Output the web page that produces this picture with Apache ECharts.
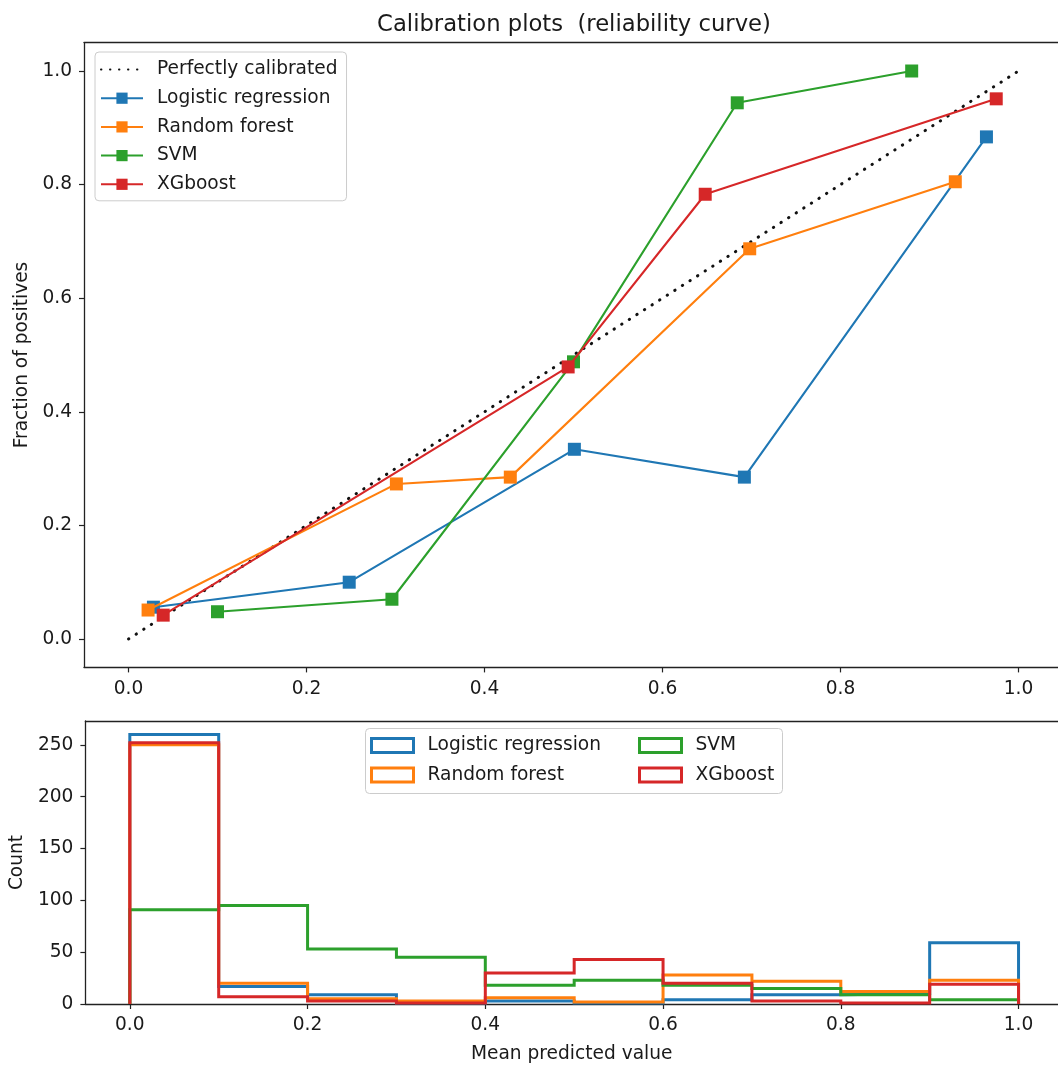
<!DOCTYPE html>
<html>
<head>
<meta charset="utf-8">
<title>Calibration plots</title>
<script src="https://cdn.jsdelivr.net/npm/echarts@6/dist/echarts.min.js"></script>
<style>
  html, body { margin: 0; padding: 0; background: #fff; overflow: hidden; }
  #chart { width: 1058px; height: 1065px; }
</style>
</head>
<body>
<div id="chart"></div>
<script>
// Reliability curves: mean predicted value (x) vs fraction of positives (y)
const modelNames = ['Logistic regression', 'Random forest', 'SVM', 'XGboost'];
const lrMeanPred = [0.028, 0.248, 0.501, 0.692, 0.964];
const lrFracPos  = [0.056, 0.100, 0.334, 0.285, 0.884];
const rfMeanPred = [0.022, 0.301, 0.429, 0.698, 0.929];
const rfFracPos  = [0.051, 0.273, 0.285, 0.687, 0.805];
const svmMeanPred = [0.100, 0.296, 0.500, 0.684, 0.880];
const svmFracPos  = [0.048, 0.070, 0.488, 0.944, 1.000];
const xgbMeanPred = [0.039, 0.494, 0.648, 0.975];
const xgbFracPos  = [0.042, 0.479, 0.783, 0.951];

// Histogram of predicted probabilities (10 bins on [0, 1])
const binEdges = [0.0, 0.1, 0.2, 0.3, 0.4, 0.5, 0.6, 0.7, 0.8, 0.9, 1.0];
const lrCounts  = [260, 17, 9, 1, 3, 1, 4, 9, 10, 59];
const rfCounts  = [250, 20, 5, 3, 6, 2, 28, 22, 12, 23];
const svmCounts = [91, 95, 53, 45, 18, 23, 18, 15, 9, 4];
const xgbCounts = [252, 7, 3, 1, 30, 43, 20, 3, 1, 19];

// Tick labels
const probTicks = [0.0, 0.2, 0.4, 0.6, 0.8, 1.0];
const countTicks = [0, 50, 100, 150, 200, 250];

const colors = ['#1f77b4', '#ff7f0e', '#2ca02c', '#d62728'];
const FONT = 'DejaVu Sans';
const TXT = '#1a1a1a';
const FS = 18.6;

// x extent: 5% margin on the left; the right part of the axes runs past the page edge
const X_MIN = -0.05;
const X_MAX = 1.0444;

function pairs(xs, ys) { return xs.map((x, i) => [x, ys[i]]); }

// Outline of a step histogram (like histtype='step')
function stepOutline(edges, counts) {
  const pts = [[edges[0], 0]];
  counts.forEach((c, i) => { pts.push([edges[i], c]); pts.push([edges[i + 1], c]); });
  pts.push([edges[edges.length - 1], 0]);
  return pts;
}

const curves = [
  pairs(lrMeanPred, lrFracPos),
  pairs(rfMeanPred, rfFracPos),
  pairs(svmMeanPred, svmFracPos),
  pairs(xgbMeanPred, xgbFracPos)
];
const hists = [lrCounts, rfCounts, svmCounts, xgbCounts].map(c => stepOutline(binEdges, c));

const spine = { show: true, onZero: false, lineStyle: { color: '#222', width: 1.3 } };
const tickStyle = { color: '#222', width: 1.2 };
const nameStyle = { fontFamily: FONT, fontSize: FS, color: TXT };

function probXAxis(gridIndex, extra) {
  return Object.assign({
    type: 'value', gridIndex: gridIndex, min: X_MIN, max: X_MAX, position: 'bottom',
    axisLine: spine,
    splitLine: { show: false },
    axisTick: { show: true, customValues: probTicks, length: 5, lineStyle: tickStyle },
    axisLabel: { customValues: probTicks, formatter: v => v.toFixed(1), fontFamily: FONT, fontSize: FS, color: TXT, margin: 12 }
  }, extra || {});
}

// Top frame line of each panel
function topSpine(gridIndex) {
  return {
    type: 'value', gridIndex: gridIndex, min: X_MIN, max: X_MAX, position: 'top',
    axisLine: spine, axisTick: { show: false }, axisLabel: { show: false }, splitLine: { show: false }
  };
}

const series = [];
series.push({
  name: 'Perfectly calibrated', type: 'line', xAxisIndex: 0, yAxisIndex: 0,
  data: [[0, 0], [1, 1]], symbol: 'none', z: 3,
  itemStyle: { color: '#111' },
  lineStyle: { color: '#111', width: 3, type: [0.4, 8.6], cap: 'round' }
});
curves.forEach((d, i) => series.push({
  name: modelNames[i], type: 'line', xAxisIndex: 0, yAxisIndex: 0,
  data: d, symbol: 'rect', symbolSize: 13, z: 4 + i,
  itemStyle: { color: colors[i] },
  lineStyle: { color: colors[i], width: 2.1 }
}));
hists.forEach((d, i) => series.push({
  name: modelNames[i], type: 'line', xAxisIndex: 1, yAxisIndex: 1,
  data: d, symbol: 'none', z: 4 + i,
  itemStyle: { color: colors[i] },
  lineStyle: { color: colors[i], width: 3, join: 'miter' }
}));

const legendText = { fontFamily: FONT, fontSize: FS, color: TXT, padding: [0, 0, 0, 9], lineHeight: 18 };

const option = {
  animation: false,
  backgroundColor: '#fff',
  title: {
    text: 'Calibration plots  (reliability curve)',
    left: 569, top: 9, textAlign: 'center',
    textStyle: { fontFamily: FONT, fontSize: 22.7, fontWeight: 'normal', color: TXT }
  },
  grid: [
    { left: 84, top: 42.6, right: 0, height: 624.8, show: false },
    { left: 84, top: 721, right: 0, height: 285, show: false }
  ],
  xAxis: [
    probXAxis(0),
    probXAxis(1, { name: 'Mean predicted value', nameLocation: 'middle', nameGap: 41, nameTextStyle: nameStyle }),
    topSpine(0),
    topSpine(1)
  ],
  yAxis: [
    {
      type: 'value', gridIndex: 0, min: -0.05, max: 1.05,
      axisLine: spine, splitLine: { show: false },
      axisTick: { show: true, customValues: probTicks, length: 5, lineStyle: tickStyle },
      axisLabel: { customValues: probTicks, formatter: v => v.toFixed(1), fontFamily: FONT, fontSize: FS, color: TXT, margin: 12 },
      name: 'Fraction of positives', nameLocation: 'middle', nameGap: 51, nameTextStyle: nameStyle
    },
    {
      type: 'value', gridIndex: 1, min: 0, max: 273,
      axisLine: spine, splitLine: { show: false },
      axisTick: { show: true, customValues: countTicks, length: 5, lineStyle: tickStyle },
      axisLabel: { customValues: countTicks, fontFamily: FONT, fontSize: FS, color: TXT, margin: 12 },
      name: 'Count', nameLocation: 'middle', nameGap: 56, nameTextStyle: nameStyle
    }
  ],
  legend: [
    {
      orient: 'vertical', left: 95, top: 52,
      data: [{ name: 'Perfectly calibrated', itemStyle: { color: 'rgba(0,0,0,0)', borderWidth: 0 } }].concat(modelNames),
      itemWidth: 42, itemHeight: 14, itemGap: 9.7,
      padding: [8, 9, 7, 5],
      backgroundColor: 'rgba(255,255,255,0.85)', borderColor: '#cccccc', borderWidth: 1, borderRadius: 4,
      textStyle: legendText,
      selectedMode: false
    },
    {
      orient: 'vertical', left: 370, top: 736,
      data: [0, 1].map(i => ({ name: modelNames[i], icon: 'rect', itemStyle: { color: '#fff', borderColor: colors[i], borderWidth: 3 } })),
      itemWidth: 42, itemHeight: 14, itemGap: 10.4, padding: 0,
      textStyle: legendText, selectedMode: false
    },
    {
      orient: 'vertical', left: 638, top: 736,
      data: [2, 3].map(i => ({ name: modelNames[i], icon: 'rect', itemStyle: { color: '#fff', borderColor: colors[i], borderWidth: 3 } })),
      itemWidth: 42, itemHeight: 14, itemGap: 10.4, padding: 0,
      textStyle: legendText, selectedMode: false
    }
  ],
  graphic: [
    {
      type: 'rect', z: 3, silent: true,
      shape: { x: 365.5, y: 728.5, width: 417, height: 65, r: 4 },
      style: { fill: 'rgba(255,255,255,0.85)', stroke: '#cccccc', lineWidth: 1 }
    }
  ],
  series: series
};

const chart = echarts.init(document.getElementById('chart'), null, { renderer: 'canvas' });
chart.setOption(option);
</script>
</body>
</html>
